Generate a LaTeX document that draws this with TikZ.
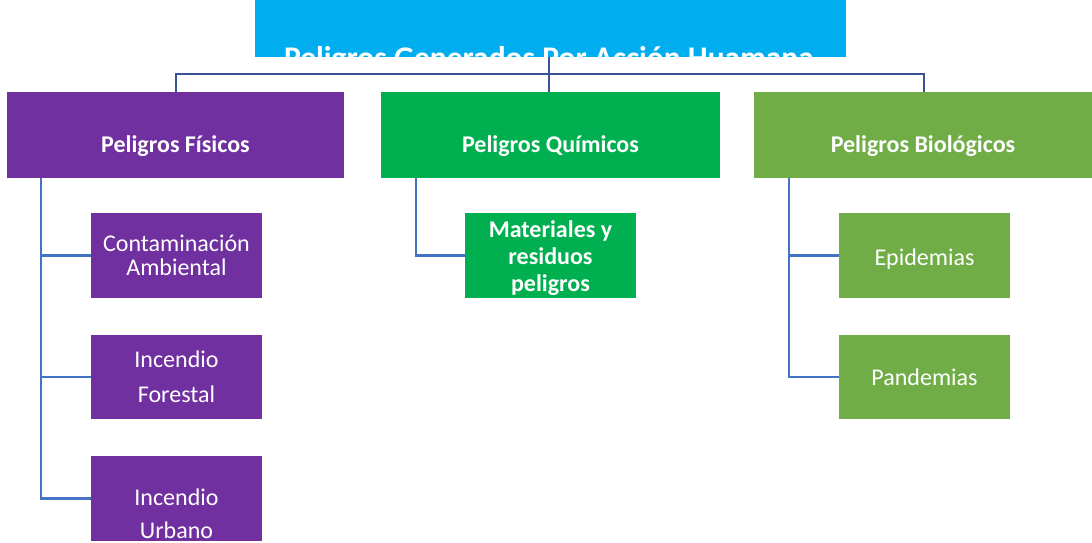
\documentclass[tikz,border=0pt]{standalone}
\usepackage{fontspec}
\setmainfont{Carlito}
\definecolor{cyanbox}{HTML}{00AEEF}
\definecolor{purplebox}{HTML}{7030A0}
\definecolor{greenbox}{HTML}{00B050}
\definecolor{lightgreen}{HTML}{70AD47}
\definecolor{darkline}{HTML}{3A5298}
\definecolor{blueline}{HTML}{4472C4}
\tikzset{
  box/.style={inner sep=0pt, outer sep=0pt, text=white, align=center},
  lvlone/.style={box, minimum height=86pt, text height=35pt, text depth=0pt, font=\bfseries\fontsize{24}{28}\selectfont},
  leaf/.style={box, minimum width=171pt, minimum height=85pt, font=\fontsize{24}{24}\selectfont},
  topline/.style={draw=darkline, line width=2.5pt},
  subline/.style={draw=blueline, line width=2.5pt},
}
\begin{document}
\begin{tikzpicture}[x=1pt,y=-1pt]
\useasboundingbox (0,0) rectangle (1092,543);
\clip (0,0) rectangle (1092,543);
% top box with clipped title
\node[box, fill=cyanbox, minimum width=591pt, minimum height=57pt] (top) at (550.5,28.5) {};
\begin{scope}
\clip (255,0) rectangle (846,57);
\node[text=white, font=\bfseries\fontsize{31.5}{36}\selectfont, anchor=base, inner sep=0pt] (title) at (549,68) {Peligros Generados Por Acción Huamana};
\end{scope}
% level one
\node[lvlone, fill=purplebox, minimum width=337pt] (fis) at (175.5,135) {Peligros Físicos};
\node[lvlone, fill=greenbox, minimum width=339pt] (qui) at (550.5,135) {Peligros Químicos};
\node[lvlone, fill=lightgreen, minimum width=338pt] (bio) at (923,135) {Peligros Biológicos};
% leaves
\node[leaf, fill=purplebox] (c1) at (176.5,255.5) {Contaminación\\Ambiental};
\node[leaf, fill=purplebox, minimum height=84pt, font=\fontsize{24}{35}\selectfont] (c2) at (176.5,377) {Incendio\\Forestal};
\node[leaf, fill=purplebox] (c3) at (176.5,498.5) {};
\begin{scope}
\clip (91,456) rectangle (262,541);
\node[box, font=\fontsize{24}{33}\selectfont] (c3t) at (176.5,514) {Incendio\\Urbano};
\end{scope}
\node[leaf, fill=greenbox, font=\bfseries\fontsize{24}{27}\selectfont] (m1) at (550.5,255.5) {};
\node[box, font=\bfseries\fontsize{24}{27}\selectfont] (m1t) at (550.5,258) {Materiales y\\residuos\\peligros};
\node[leaf, fill=lightgreen, text height=19pt, text depth=0pt] (e1) at (924.5,255.5) {Epidemias};
\node[leaf, fill=lightgreen, minimum height=84pt] (p1) at (924.5,377) {Pandemias};
% connectors from the top
\draw[topline] (fis.north -| 176,0) -- (176,74) -| (bio.north -| 924,0);
\draw[topline] (top.south -| 549,0) -- (qui.north -| 549,0);
% connectors to leaves
\coordinate (fisx) at (41,178);
\coordinate (quix) at (416,178);
\coordinate (biox) at (789,178);
\draw[subline] (fisx) |- (c1.west);
\draw[subline] (fisx) |- (c2.west);
\draw[subline] (fisx) |- (c3.west);
\draw[subline] (quix) |- (m1.west);
\draw[subline] (biox) |- (e1.west);
\draw[subline] (biox) |- (p1.west);
\end{tikzpicture}
\end{document}
